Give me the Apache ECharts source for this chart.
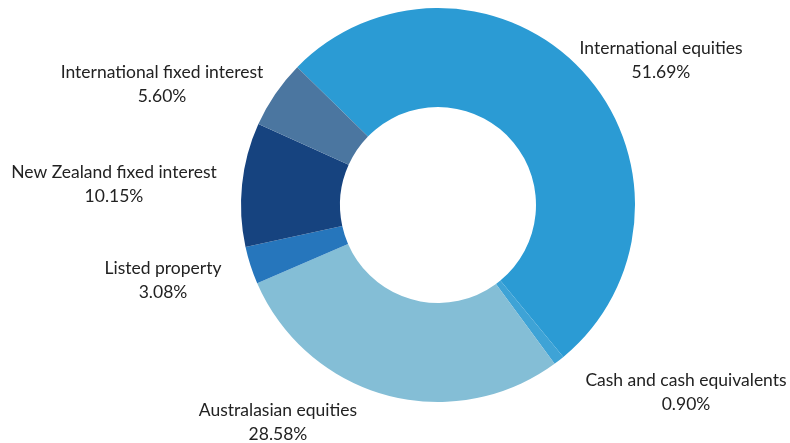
<!DOCTYPE html>
<html>
<head>
<meta charset="utf-8">
<script src="https://cdn.jsdelivr.net/npm/echarts@6/dist/echarts.min.js"></script>
<style>
html,body{margin:0;padding:0;background:#fff;}
#chart{width:790px;height:443px;}
</style>
</head>
<body>
<div id="chart"></div>
<script>
const categories = ["International equities", "Cash and cash equivalents", "Australasian equities", "Listed property", "New Zealand fixed interest", "International fixed interest"];
const values = [51.69, 0.90, 28.58, 3.08, 10.15, 5.60];
const colors = ["#2b9bd4", "#3ea3d6", "#84bed6", "#2676bc", "#16437f", "#4b76a0"];
const labelPos = [[661, 60], [686, 392], [278, 422], [163, 280], [114, 184], [162, 84]];

const chart = echarts.init(document.getElementById('chart'), null, {renderer: 'canvas'});
chart.setOption({
  animation: false,
  backgroundColor: '#ffffff',
  series: [{
    type: 'pie',
    center: [438, 205],
    radius: [98, 197],
    startAngle: 135.6,
    clockwise: true,
    avoidLabelOverlap: false,
    data: categories.map((c, i) => ({name: c, value: values[i], itemStyle: {color: colors[i]}})),
    label: {
      show: true,
      position: 'outside',
      formatter: p => p.name + '\n' + p.value.toFixed(2) + '%',
      fontFamily: 'Lato',
      fontSize: 17.5,
      lineHeight: 24,
      color: '#222222',
      align: 'center'
    },
    labelLine: {show: false},
    labelLayout: function (params) {
      const p = labelPos[params.dataIndex];
      return {x: p[0], y: p[1], align: 'center', verticalAlign: 'middle'};
    },
    emphasis: {disabled: true}
  }]
});
</script>
</body>
</html>
